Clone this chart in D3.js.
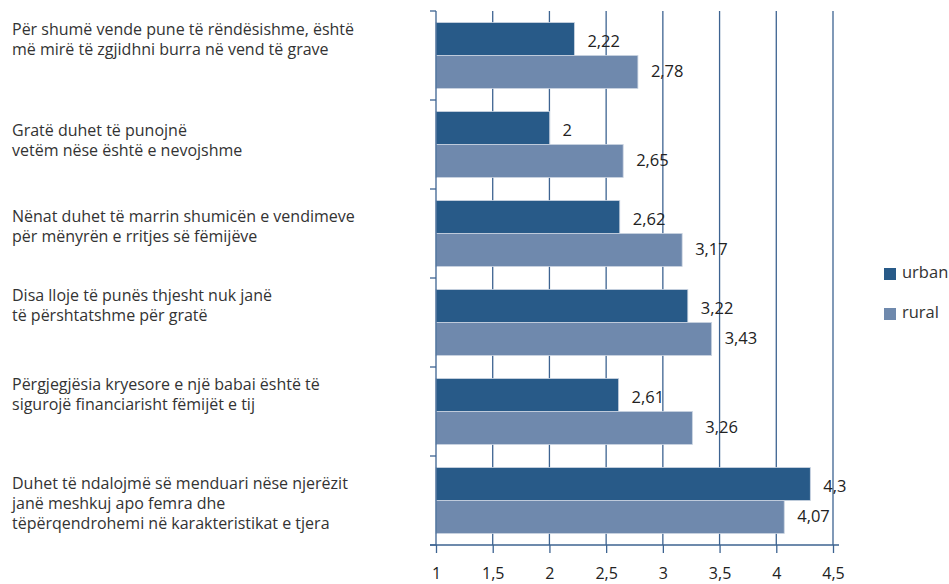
<!DOCTYPE html>
<html><head><meta charset="utf-8">
<script src="https://cdn.jsdelivr.net/npm/d3@7"></script>
<style>body{margin:0;background:#fff}svg{display:block}text{font-family:"Open Sans",sans-serif}</style>
</head><body><svg id="c" width="949" height="584"></svg>
<script>
const categories = [
  ["Për shumë vende pune të rëndësishme, është","më mirë të zgjidhni burra në vend të grave"],
  ["Gratë duhet të punojnë","vetëm nëse është e nevojshme"],
  ["Nënat duhet të marrin shumicën e vendimeve","për mënyrën e rritjes së fëmijëve"],
  ["Disa lloje të punës thjesht nuk janë","të përshtatshme për gratë"],
  ["Përgjegjësia kryesore e një babai është të","sigurojë financiarisht fëmijët e tij"],
  ["Duhet të ndalojmë së menduari nëse njerëzit","janë meshkuj apo femra dhe","tëpërqendrohemi në karakteristikat e tjera"]
];
const urban = [2.22, 2, 2.62, 3.22, 2.61, 4.3];
const rural = [2.78, 2.65, 3.17, 3.43, 3.26, 4.07];
const xTicks = [1, 1.5, 2, 2.5, 3, 3.5, 4, 4.5];
const seriesNames = ["urban", "rural"];
const colors = ["#285a88", "#6f89ad"];

(function(){
const svg = d3.select("#c");
const L = 436, R = 833, T = 11, B = 545;
const x = d3.scaleLinear().domain([1, 4.5]).range([L, R]);
const y = d3.scaleBand().domain(d3.range(categories.length)).range([T, B]).paddingInner(0.26).paddingOuter(0.13);
const ys = d3.scaleBand().domain([0,1]).range([0, y.bandwidth()]);
const fmt = v => String(v).replace(".", ",");
const axisCol = "#3d6391";

svg.append("g").selectAll("line").data(xTicks.slice(1)).join("line")
  .attr("x1", d => x(d)).attr("x2", d => x(d)).attr("y1", T).attr("y2", B)
  .attr("stroke", axisCol).attr("stroke-width", 1.3);

const series = [urban, rural];
series.forEach((vals, si) => {
  svg.append("g").selectAll("rect").data(vals).join("rect")
    .attr("x", x(1)).attr("y", (d, i) => y(i) + ys(si))
    .attr("width", d => x(d) - x(1)).attr("height", ys.bandwidth())
    .attr("fill", colors[si]).attr("stroke", "#c9d3e0").attr("stroke-width", 0.8);
  svg.append("g").selectAll("text").data(vals).join("text")
    .attr("x", d => x(d) + 13).attr("y", (d, i) => y(i) + ys(si) + ys.bandwidth() / 2 + (si === 0 ? 4 : 1))
    .attr("dominant-baseline", "middle").attr("font-size", 16.5).attr("fill", "#222")
    .text(d => fmt(d));
});

const xAxis = d3.axisBottom(x).tickValues(xTicks).tickSize(8).tickPadding(15).tickFormat(fmt);
const gx = svg.append("g").attr("transform", `translate(0,${B})`).call(xAxis);
gx.select(".domain").remove();
gx.append("line").attr("x1", 430).attr("x2", R + 6).attr("stroke", axisCol).attr("stroke-width", 1.3);
gx.selectAll(".tick line").attr("stroke", axisCol).attr("stroke-width", 1.3);
gx.selectAll(".tick text").attr("font-size", 16).attr("fill", "#222").attr("font-family", "Open Sans");

const bounds = d3.range(categories.length + 1).map(i => T + i * (B - T) / categories.length);
svg.append("line").attr("x1", L).attr("x2", L).attr("y1", T).attr("y2", B).attr("stroke", axisCol).attr("stroke-width", 1.3);
svg.append("g").selectAll("line").data(bounds).join("line")
  .attr("x1", L - 6).attr("x2", L).attr("y1", d => d).attr("y2", d => d)
  .attr("stroke", axisCol).attr("stroke-width", 1.3);

const labelShift = [-15, -3, -6, -16, -16, 4];
const lh = 20;
categories.forEach((lines, i) => {
  const c = y(i) + y.bandwidth() / 2 + labelShift[i];
  const t = svg.append("text").attr("x", 12).attr("font-size", 16).attr("fill", "#333");
  lines.forEach((ln, k) => {
    t.append("tspan").attr("x", 12)
      .attr("y", c + (k - (lines.length - 1) / 2) * lh).attr("dominant-baseline", "middle").text(ln);
  });
});

seriesNames.forEach((n, i) => {
  const g = svg.append("g").attr("transform", `translate(884,${268 + i * 40})`);
  g.append("rect").attr("width", 12).attr("height", 12).attr("fill", colors[i]);
  g.append("text").attr("x", 18).attr("y", 6).attr("dominant-baseline", "middle").attr("font-size", 16.5).attr("fill", "#333").text(n);
});
})();
</script></body></html>
